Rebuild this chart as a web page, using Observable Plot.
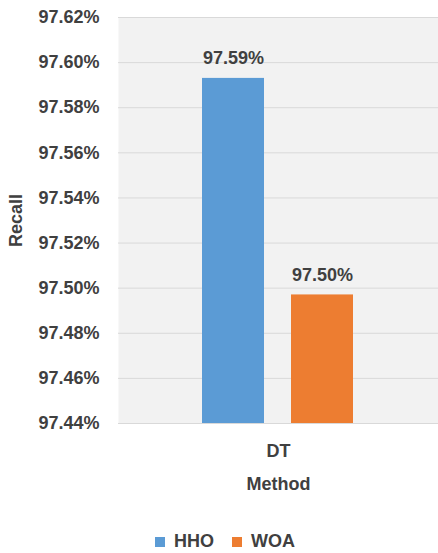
<!DOCTYPE html>
<html>
<head>
<meta charset="utf-8">
<script src="https://cdn.jsdelivr.net/npm/d3@7"></script>
<script src="https://cdn.jsdelivr.net/npm/@observablehq/plot@0.6"></script>
<style>
  body { margin: 0; background: #fff; font-family: "Liberation Sans", Arial, sans-serif; }
  #legend { margin-top: 25px; }
</style>
</head>
<body>
<div id="chart"></div>
<div id="legend"></div>
<script>
// Recall of the DT classifier with features chosen by each optimizer
const methods = ["DT"];
const algorithms = ["HHO", "WOA"];
const recall = [97.593, 97.497];
const yTicks = [97.44, 97.46, 97.48, 97.50, 97.52, 97.54, 97.56, 97.58, 97.60, 97.62];
const colors = ["#5b9bd5", "#ed7d31"];

const rows = algorithms.map((a, i) => ({method: methods[0], algorithm: a, recall: recall[i]}));
const pct = d => d.toFixed(2) + "%";
const font = "'Liberation Sans', Arial, sans-serif";

const chart = Plot.plot({
  width: 438,
  height: 500,
  marginTop: 17,
  marginRight: 0,
  marginBottom: 77,
  marginLeft: 118,
  style: {fontFamily: font, fontSize: "18px", fontWeight: "bold", color: "#404040", background: "#fff"},
  fx: {domain: methods, padding: 0, axis: "bottom", label: "Method", labelAnchor: "center", labelOffset: 66, tickSize: 0, tickPadding: 21},
  x: {domain: algorithms, paddingInner: 0.3, paddingOuter: 0.93, axis: null},
  y: {domain: [97.44, 97.62], ticks: yTicks, tickFormat: pct, tickSize: 0, tickPadding: 19,
      label: "Recall", labelAnchor: "center", labelOffset: 109, labelArrow: "none"},
  color: {domain: algorithms, range: colors},
  marks: [
    Plot.frame({fill: "#f2f2f2", stroke: null}),
    Plot.gridY(yTicks, {stroke: "#d9d9d9", strokeOpacity: 1}),
    Plot.barY(rows, {fx: "method", x: "algorithm", y1: 97.44, y2: "recall", fill: "algorithm"}),
    Plot.text(rows, {fx: "method", x: "algorithm", y: "recall", text: d => pct(d.recall), dy: -20, fill: "#404040"})
  ]
});
document.getElementById("chart").append(chart);

const legend = Plot.legend({
  color: {domain: algorithms, range: colors},
  legend: "swatches",
  swatchSize: 10,
  marginLeft: 155,
  style: {fontFamily: font, fontSize: "18px", fontWeight: "bold", color: "#404040"}
});
document.getElementById("legend").append(legend);
</script>
</body>
</html>
